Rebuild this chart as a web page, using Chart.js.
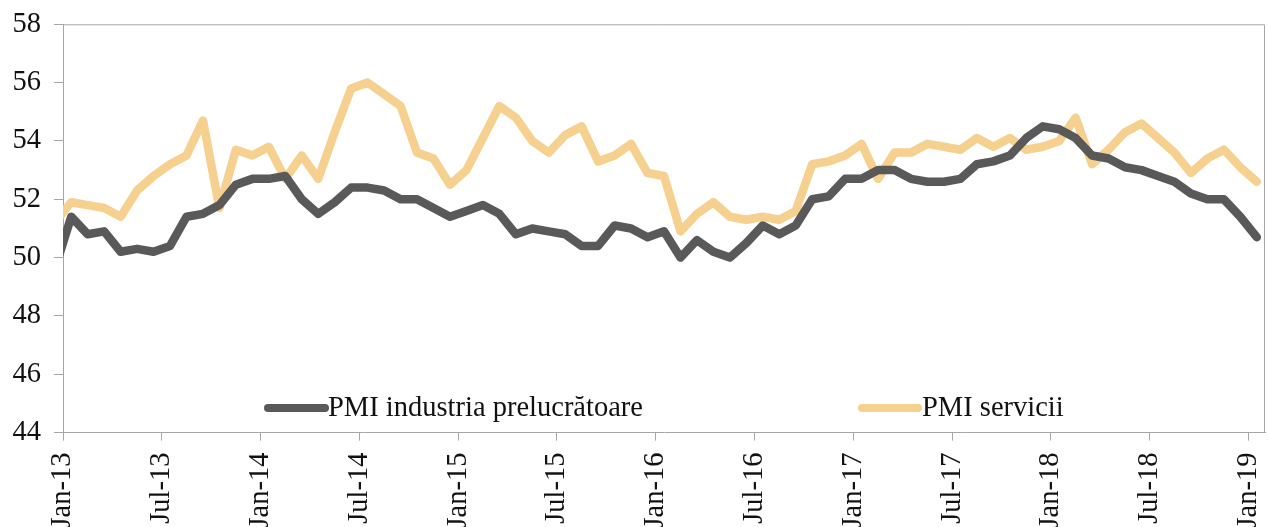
<!DOCTYPE html>
<html><head><meta charset="utf-8">
<script src="https://cdn.jsdelivr.net/npm/chart.js@4.4.1/dist/chart.umd.min.js"></script>
<style>
html,body{margin:0;padding:0;background:#fff;overflow:hidden;}
#wrap{position:relative;width:1269px;height:545px;}
</style></head><body>
<div id="wrap"><canvas id="c"></canvas></div>
<script>
const months = ['Dec-12',
 'Jan-13','Feb-13','Mar-13','Apr-13','May-13','Jun-13','Jul-13','Aug-13','Sep-13','Oct-13','Nov-13','Dec-13',
 'Jan-14','Feb-14','Mar-14','Apr-14','May-14','Jun-14','Jul-14','Aug-14','Sep-14','Oct-14','Nov-14','Dec-14',
 'Jan-15','Feb-15','Mar-15','Apr-15','May-15','Jun-15','Jul-15','Aug-15','Sep-15','Oct-15','Nov-15','Dec-15',
 'Jan-16','Feb-16','Mar-16','Apr-16','May-16','Jun-16','Jul-16','Aug-16','Sep-16','Oct-16','Nov-16','Dec-16',
 'Jan-17','Feb-17','Mar-17','Apr-17','May-17','Jun-17','Jul-17','Aug-17','Sep-17','Oct-17','Nov-17','Dec-17',
 'Jan-18','Feb-18','Mar-18','Apr-18','May-18','Jun-18','Jul-18','Aug-18','Sep-18','Oct-18','Nov-18','Dec-18',
 'Jan-19'];

const manufacturing = [49.6,
 51.4,50.8,50.9,50.2,50.3,50.2,50.4,51.4,51.5,51.8,52.5,52.7,
 52.7,52.8,52.0,51.5,51.9,52.4,52.4,52.3,52.0,52.0,51.7,51.4,
 51.6,51.8,51.5,50.8,51.0,50.9,50.8,50.4,50.4,51.1,51.0,50.7,
 50.9,50.0,50.6,50.2,50.0,50.5,51.1,50.8,51.1,52.0,52.1,52.7,
 52.7,53.0,53.0,52.7,52.6,52.6,52.7,53.2,53.3,53.5,54.1,54.5,
 54.4,54.1,53.5,53.4,53.1,53.0,52.8,52.6,52.2,52.0,52.0,51.4,
 50.7];

const services = [51.2,
 51.9,51.8,51.7,51.4,52.3,52.8,53.2,53.5,54.7,51.7,53.7,53.5,
 53.8,52.7,53.5,52.7,54.3,55.8,56.0,55.6,55.2,53.6,53.4,52.5,
 53.0,54.1,55.2,54.8,54.0,53.6,54.2,54.5,53.3,53.5,53.9,52.9,
 52.8,50.9,51.5,51.9,51.4,51.3,51.4,51.3,51.6,53.2,53.3,53.5,
 53.9,52.7,53.6,53.6,53.9,53.8,53.7,54.1,53.8,54.1,53.7,53.8,
 54.0,54.8,53.2,53.7,54.3,54.6,54.1,53.6,52.9,53.4,53.7,53.1,
 52.6];

const tickLabels = ['Jan-13','Jul-13','Jan-14','Jul-14','Jan-15','Jul-15','Jan-16','Jul-16','Jan-17','Jul-17','Jan-18','Jul-18','Jan-19'];
const seriesNames = ['PMI industria prelucrătoare','PMI servicii'];
const seriesColors = ['#595959','#F5D08E'];
const yMin = 44, yMax = 58, yStep = 2;

// first category (Jan-13) starts at x=0; each month is centred in its category
const firstIdx = months.indexOf('Jan-13');
const toPts = arr => arr.map((v, i) => ({x: i - firstIdx + 0.5, y: v}));
const tickPos = tickLabels.map(l => months.indexOf(l) - firstIdx);

const FONT = "'Liberation Serif', 'Times New Roman', serif";
const AXIS = '#A6A6A6';

const frame = {
  id: 'frame',
  afterDatasetsDraw(chart) {
    const {ctx, chartArea: a} = chart;
    ctx.save();
    ctx.strokeStyle = AXIS; ctx.lineWidth = 1;
    ctx.beginPath();
    ctx.moveTo(a.left, a.top + 0.5); ctx.lineTo(a.right - 0.5, a.top + 0.5);
    ctx.lineTo(a.right - 0.5, a.bottom);
    ctx.stroke();
    ctx.restore();
  }
};

const innerLegend = {
  id: 'innerLegend',
  afterDatasetsDraw(chart) {
    const {ctx} = chart;
    const y = 408;
    const items = [{x0: 268, x1: 325, tx: 328}, {x0: 862, x1: 918, tx: 922}];
    ctx.save();
    chart.data.datasets.forEach((ds, i) => {
      const it = items[i];
      ctx.strokeStyle = ds.borderColor; ctx.lineWidth = 8; ctx.lineCap = 'round';
      ctx.beginPath(); ctx.moveTo(it.x0, y); ctx.lineTo(it.x1, y); ctx.stroke();
      ctx.fillStyle = '#111'; ctx.font = '28.5px ' + FONT;
      ctx.textBaseline = 'middle'; ctx.textAlign = 'left';
      ctx.fillText(ds.label, it.tx, y + 1);
    });
    ctx.restore();
  }
};

new Chart(document.getElementById('c'), {
  type: 'line',
  data: {
    datasets: [manufacturing, services].map((arr, i) => ({
      label: seriesNames[i],
      data: toPts(arr),
      borderColor: seriesColors[i],
      backgroundColor: seriesColors[i],
      borderWidth: 8.5,
      pointRadius: 0,
      borderJoinStyle: 'round',
      borderCapStyle: 'round',
      tension: 0,
      clip: 0
    }))
  },
  plugins: [frame, innerLegend],
  options: {
    responsive: true, maintainAspectRatio: false, animation: false,
    layout: {padding: {top: 24.3, right: 4, left: 0, bottom: 0}},
    plugins: {legend: {display: false}, tooltip: {enabled: false}},
    scales: {
      x: {
        type: 'linear', min: 0, max: tickPos[tickPos.length - 1] + 1,
        afterBuildTicks: s => { s.ticks = tickPos.map(v => ({value: v})); },
        afterFit: s => { s.height = 545 - 432.6; s.paddingLeft = 0; s.paddingRight = 0; },
        ticks: {
          autoSkip: false, maxRotation: 90, minRotation: 90, padding: 12,
          color: '#111', font: {family: FONT, size: 28.5},
          callback: v => tickLabels[tickPos.indexOf(v)]
        },
        grid: {display: true, drawOnChartArea: false, drawTicks: true, tickLength: 8, color: AXIS},
        border: {display: true, color: AXIS, width: 1}
      },
      y: {
        min: yMin, max: yMax,
        afterFit: s => { s.width = 63; s.paddingTop = 0; s.paddingBottom = 0; },
        ticks: {stepSize: yStep, padding: 13, color: '#111', font: {family: FONT, size: 28.5}},
        grid: {display: true, drawOnChartArea: false, drawTicks: true, tickLength: 9, color: AXIS},
        border: {display: true, color: AXIS, width: 1}
      }
    }
  }
});
</script>
</body></html>
